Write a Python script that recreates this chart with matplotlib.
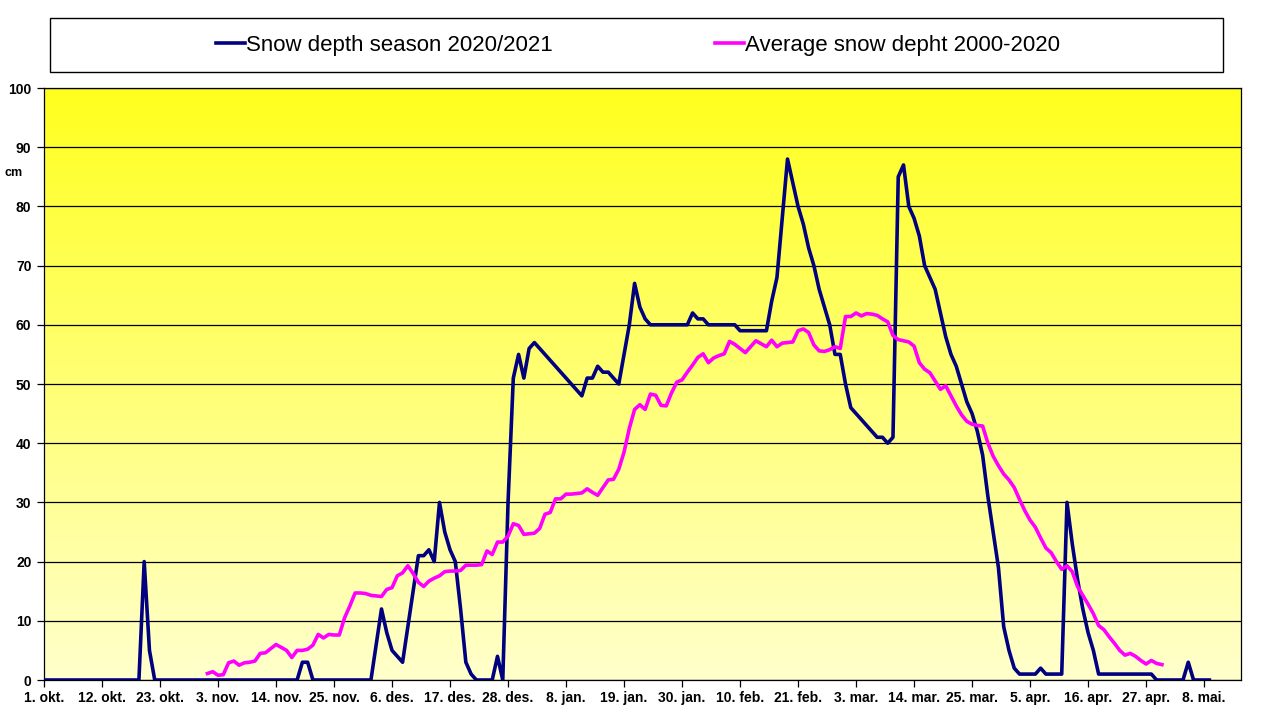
import numpy as np
import matplotlib
matplotlib.use("Agg")
import matplotlib.pyplot as plt
from matplotlib.colors import LinearSegmentedColormap
from matplotlib.patches import Rectangle

plt.rcParams['font.family'] = ['Liberation Sans', 'DejaVu Sans']

# x axis = day number counted from 1. okt.
tick_days = [0, 11, 22, 33, 44, 55, 66, 77, 88, 99, 110, 121, 132, 143, 154, 165, 176, 187, 198, 209, 220]
tick_labels = ["1. okt.", "12. okt.", "23. okt.", "3. nov.", "14. nov.", "25. nov.", "6. des.",
               "17. des.", "28. des.", "8. jan.", "19. jan.", "30. jan.", "10. feb.", "21. feb.",
               "3. mar.", "14. mar.", "25. mar.", "5. apr.", "16. apr.", "27. apr.", "8. mai."]

# snow depth 2020/2021, one value per day from 1. okt.
season_start = 0
season = [
    0, 0, 0, 0, 0, 0, 0, 0, 0, 0,
    0, 0, 0, 0, 0, 0, 0, 0, 0, 20,
    5, 0, 0, 0, 0, 0, 0, 0, 0, 0,
    0, 0, 0, 0, 0, 0, 0, 0, 0, 0,
    0, 0, 0, 0, 0, 0, 0, 0, 0, 3,
    3, 0, 0, 0, 0, 0, 0, 0, 0, 0,
    0, 0, 0, 6, 12, 8, 5, 4, 3, 9,
    15, 21, 21, 22, 20, 30, 25, 22, 20, 12,
    3, 1, 0, 0, 0, 0, 4, 0, 30, 51,
    55, 51, 56, 57, 56, 55, 54, 53, 52, 51,
    50, 49, 48, 51, 51, 53, 52, 52, 51, 50,
    55, 60, 67, 63, 61, 60, 60, 60, 60, 60,
    60, 60, 60, 62, 61, 61, 60, 60, 60, 60,
    60, 60, 59, 59, 59, 59, 59, 59, 64, 68,
    78, 88, 84, 80, 77, 73, 70, 66, 63, 60,
    55, 55, 50, 46, 45, 44, 43, 42, 41, 41,
    40, 41, 85, 87, 80, 78, 75, 70, 68, 66,
    62, 58, 55, 53, 50, 47, 45, 42, 38, 31,
    25, 19, 9, 5, 2, 1, 1, 1, 1, 2,
    1, 1, 1, 1, 30, 23, 17, 12, 8, 5,
    1, 1, 1, 1, 1, 1, 1, 1, 1, 1,
    1, 0, 0, 0, 0, 0, 0, 3, 0, 0,
    0, 0,
]

# average snow depth 2000-2020, one value per day from 1. nov.
average_start = 31
average = [
    1.1, 1.4, 0.8, 0.9, 2.9, 3.2, 2.5, 2.9, 3.0,
    3.2, 4.5, 4.6, 5.3, 6.0, 5.5, 5.0, 3.8, 5.0, 5.0,
    5.2, 5.9, 7.7, 7.1, 7.7, 7.6, 7.6, 10.5, 12.5, 14.7,
    14.7, 14.6, 14.3, 14.2, 14.1, 15.3, 15.6, 17.6, 18.1, 19.3,
    18.0, 16.5, 15.8, 16.7, 17.2, 17.6, 18.3, 18.4, 18.4, 18.5,
    19.4, 19.4, 19.4, 19.5, 21.8, 21.2, 23.3, 23.3, 24.3, 26.4,
    26.1, 24.6, 24.7, 24.8, 25.6, 28.0, 28.3, 30.6, 30.6, 31.4,
    31.4, 31.5, 31.6, 32.3, 31.7, 31.2, 32.5, 33.8, 33.9, 35.6,
    38.5, 42.5, 45.7, 46.5, 45.7, 48.3, 48.1, 46.4, 46.3, 48.5,
    50.3, 50.7, 52.0, 53.2, 54.5, 55.1, 53.6, 54.4, 54.8, 55.1,
    57.2, 56.7, 56.0, 55.3, 56.3, 57.3, 56.8, 56.3, 57.4, 56.3,
    56.9, 57.0, 57.1, 59.0, 59.3, 58.7, 56.6, 55.6, 55.5, 55.8,
    56.3, 56.0, 61.4, 61.4, 62.0, 61.5, 61.9, 61.8, 61.6, 61.0,
    60.5, 58.2, 57.5, 57.3, 57.1, 56.4, 53.6, 52.5, 51.9, 50.5,
    49.1, 49.7, 48.0, 46.3, 44.8, 43.7, 43.2, 43.0, 42.9, 40.0,
    37.8, 36.2, 34.8, 33.8, 32.5, 30.5, 28.6, 27.0, 25.8, 24.0,
    22.3, 21.5, 20.0, 18.7, 19.3, 18.3, 15.8, 14.3, 12.8, 11.2,
    9.2, 8.5, 7.3, 6.2, 5.0, 4.2, 4.5, 4.0, 3.3, 2.7,
    3.3, 2.8, 2.6,
]

season_days = np.arange(season_start, season_start + len(season))
average_days = np.arange(average_start, average_start + len(average))

fig = plt.figure(figsize=(12.8, 7.2), dpi=100)
ax = fig.add_axes([44 / 1280, 40 / 720, 1197 / 1280, 592 / 720])

# yellow gradient background
grad = LinearSegmentedColormap.from_list("bg", ["#FFFFCC", "#FFFF1E"])
ax.imshow(np.linspace(0, 1, 256).reshape(-1, 1), cmap=grad, origin="lower",
          extent=[0, 227, 0, 100], aspect="auto", zorder=0)

ax.plot(season_days, season, color="#000080", lw=2.6, solid_joinstyle="round",
        label="Snow depth season 2020/2021", zorder=3)
ax.plot(average_days, average, color="#FF00FF", lw=2.6, solid_joinstyle="round",
        label="Average snow depht 2000-2020", zorder=4)

ax.set_xlim(0, 227)
ax.set_ylim(0, 100)
ax.set_yticks(range(0, 101, 10))
ax.set_xticks(tick_days)
ax.set_xticklabels(tick_labels)
ax.yaxis.grid(True, color="black", lw=0.9)
ax.tick_params(axis="both", direction="out", length=5, width=0.9, color="black")
ax.tick_params(axis="x", pad=3)
ax.tick_params(axis="y", pad=4)
for lab in ax.get_xticklabels() + ax.get_yticklabels():
    lab.set_fontsize(10)
    lab.set_fontweight("bold")
for sp in ax.spines.values():
    sp.set_color("black")
    sp.set_linewidth(0.9)

fig.text(14 / 1280, 1 - 173 / 720, "cm", fontsize=9, fontweight="bold",
         ha="center", va="center")

# legend box across the top
fig.patches.append(Rectangle((50 / 1280, 1 - 72 / 720), 1173 / 1280, 54 / 720,
                             transform=fig.transFigure, facecolor="white",
                             edgecolor="black", lw=1))
fig.legend(loc="center", bbox_to_anchor=(638 / 1280, 1 - 45 / 720), ncol=2,
           frameon=False, fontsize=16, handlelength=1.3, handletextpad=0.05,
           columnspacing=7.3)

fig.savefig("out.png", dpi=100)
